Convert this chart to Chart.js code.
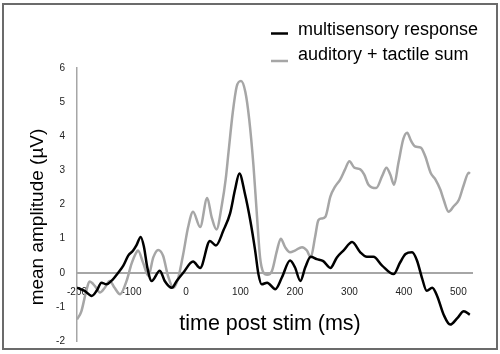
<!DOCTYPE html>
<html>
<head>
<meta charset="utf-8">
<script src="https://cdn.jsdelivr.net/npm/chart.js@4/dist/chart.umd.min.js"></script>
<style>
  html, body { margin: 0; padding: 0; background: #fff; }
  #wrap { width: 500px; height: 354px; }
</style>
</head>
<body>
<div id="wrap"><canvas id="erpChart" width="500" height="354"></canvas></div>
<script>
// series labels
const seriesNames = ["multisensory response", "auditory + tactile sum"];

// multisensory response (black), time in ms / amplitude in uV
const blackTimes = [-200, -186, -173, -164, -155, -146, -137, -124, -115, -106, -97, -91, -83, -77, -71, -63, -48, -39, -26, -17, -5, 13, 26, 44, 55, 69, 81, 90, 98, 108, 118, 127, 133, 139, 149, 164, 176, 191, 200, 210, 219, 229, 240, 252, 265, 277, 289, 305, 320, 332, 344, 360, 381, 393, 403, 415, 424, 433, 442, 452, 461, 473, 485, 498, 510, 521];
const blackValues = [-0.44, -0.53, -0.68, -0.53, -0.29, -0.34, -0.24, 0.01, 0.21, 0.5, 0.65, 0.8, 1.05, 0.75, 0.16, -0.24, 0.06, -0.24, -0.44, -0.24, 0, 0.33, 0.14, 0.93, 0.8, 1.25, 1.74, 2.43, 2.91, 2.33, 1.54, 0.65, -0.04, -0.34, -0.29, -0.48, -0.14, 0.36, 0.16, -0.24, 0.16, 0.47, 0.4, 0.34, 0.14, 0.45, 0.65, 0.9, 0.6, 0.47, 0.47, 0.21, -0.04, 0.3, 0.55, 0.6, 0.36, -0.14, -0.53, -0.44, -0.68, -1.23, -1.52, -1.33, -1.13, -1.23];

// auditory + tactile sum (gray)
const grayTimes = [-200, -192, -183, -177, -167, -158, -149, -140, -131, -121, -109, -100, -91, -88, -79, -69, -60, -51, -42, -33, -23, -14, -5, 4, 13, 26, 39, 47, 56, 66, 73, 78, 86, 93, 101, 109, 116, 124, 130, 136, 142, 149, 158, 167, 174, 182, 191, 200, 213, 222, 229, 237, 243, 249, 256, 265, 274, 283, 292, 300, 309, 320, 327, 335, 349, 360, 368, 375, 382, 390, 399, 406, 413, 421, 431, 439, 449, 458, 467, 473, 482, 491, 501, 510, 519, 521];
const grayValues = [-1.37, -1.13, -0.53, -0.26, -0.39, -0.58, -0.44, -0.24, -0.44, -0.63, -0.24, 0.26, 0.6, 0.65, 0.31, -0.09, 0.45, 0.67, 0.5, -0.09, -0.44, -0.14, 0.55, 1.34, 1.79, 1.34, 2.19, 1.64, 1.27, 2.0, 2.75, 3.52, 4.71, 5.45, 5.62, 5.3, 4.51, 3.12, 1.74, 0.45, 0.01, -0.06, 0.06, 0.65, 1.0, 0.75, 0.6, 0.65, 0.75, 0.65, 0.45, 1.05, 1.54, 1.59, 1.64, 2.23, 2.53, 2.73, 3.03, 3.27, 3.08, 3.03, 2.88, 2.58, 2.48, 2.83, 3.08, 2.88, 2.58, 3.22, 3.92, 4.1, 3.87, 3.7, 3.67, 3.42, 2.93, 2.73, 2.43, 2.14, 1.79, 1.94, 2.14, 2.58, 2.93, 2.9];

// axes
const xMin = -200, xMax = 525, xStep = 100;
const yMin = -2, yMax = 6, yStep = 1;
const xTitle = "time post stim (ms)";
const yTitle = "mean amplitude (\u00b5V)";

const BLACK = "#000000";
const GRAY = "#a6a6a6";
const FONT = "'Liberation Sans', Arial, sans-serif";

function toPoints(xs, ys) {
  return xs.map((x, i) => ({ x: x, y: ys[i] }));
}

// frame, legend and axis titles
const decorPlugin = {
  id: "decor",
  afterDraw(chart) {
    const c = chart.ctx;
    c.save();

    c.strokeStyle = "#6b6b6b";
    c.lineWidth = 2;
    c.strokeRect(3, 4, 494, 345);

    c.lineWidth = 2.5;
    c.strokeStyle = BLACK;
    c.beginPath(); c.moveTo(271, 33.5); c.lineTo(288, 33.5); c.stroke();
    c.strokeStyle = GRAY;
    c.beginPath(); c.moveTo(271, 61); c.lineTo(288, 61); c.stroke();

    c.fillStyle = "#000";
    c.font = "18px " + FONT;
    c.textAlign = "left";
    c.textBaseline = "alphabetic";
    c.fillText(seriesNames[0], 298, 35);
    c.fillText(seriesNames[1], 298, 60);

    c.font = "21.5px " + FONT;
    c.textAlign = "center";
    c.fillText(xTitle, 270, 330);

    c.font = "19px " + FONT;
    c.translate(43, 217);
    c.rotate(-Math.PI / 2);
    c.fillText(yTitle, 0, 0);

    c.restore();
  }
};

document.addEventListener("DOMContentLoaded", () => {
  const ctx = document.getElementById("erpChart").getContext("2d");

  new Chart(ctx, {
    type: "line",
    data: {
      datasets: [
        {
          label: seriesNames[0],
          data: toPoints(blackTimes, blackValues),
          borderColor: BLACK,
          borderWidth: 2.5,
          pointRadius: 0,
          cubicInterpolationMode: "monotone",
          fill: false,
        },
        {
          label: seriesNames[1],
          data: toPoints(grayTimes, grayValues),
          borderColor: GRAY,
          borderWidth: 2.5,
          pointRadius: 0,
          cubicInterpolationMode: "monotone",
          fill: false,
        },
      ],
    },
    options: {
      responsive: false,
      animation: false,
      layout: { padding: { left: 0, top: 68, right: 28, bottom: 13 } },
      plugins: {
        legend: { display: false },
        tooltip: { enabled: false },
      },
      scales: {
        x: {
          type: "linear",
          position: { y: 0 },
          min: xMin,
          max: xMax,
          grid: { display: false, drawTicks: false },
          border: { display: true, color: GRAY, width: 2 },
          ticks: {
            stepSize: xStep,
            includeBounds: false,
            autoSkip: false,
            maxRotation: 0,
            padding: 13.5,
            color: "#222",
            font: { family: FONT, size: 10 },
          },
        },
        y: {
          type: "linear",
          min: yMin,
          max: yMax,
          grid: { display: false, drawTicks: true, tickLength: 8 },
          border: { display: true, color: GRAY, width: 1.5 },
          ticks: {
            stepSize: yStep,
            padding: 4,
            color: "#222",
            font: { family: FONT, size: 10 },
          },
          afterFit(scale) { scale.width = 77; },
        },
      },
    },
    plugins: [decorPlugin],
  });
});
</script>
</body>
</html>
